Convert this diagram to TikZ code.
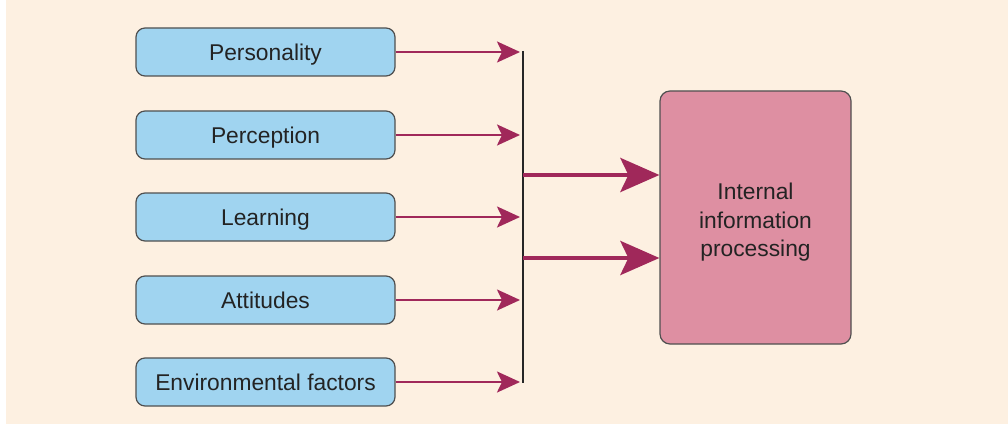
\documentclass[tikz,border=0pt]{standalone}
\usepackage{fontspec}
\setmainfont{Liberation Sans}
\usetikzlibrary{arrows.meta}
\definecolor{cream}{RGB}{253,240,225}
\definecolor{factorfill}{RGB}{160,212,240}
\definecolor{procfill}{RGB}{222,143,162}
\definecolor{flow}{RGB}{160,40,90}
\definecolor{edge}{RGB}{80,80,80}
\definecolor{ink}{RGB}{35,35,35}
\tikzset{
  factor/.style={draw=edge, line width=1.2pt, fill=factorfill, rounded corners=9pt,
    minimum width=259pt, minimum height=48pt, inner sep=0pt, text=ink,
    text height=16.3pt, text depth=0pt,
    font=\fontsize{22.8}{27}\selectfont},
  proc/.style={draw=edge, line width=1.2pt, fill=procfill, rounded corners=10pt,
    minimum width=191pt, minimum height=253pt, inner sep=0pt},
  proctext/.style={text=ink, align=center, font=\fontsize{22.8}{28.5}\selectfont},
  feed/.style={draw=flow, line width=2.4pt,
    -{Stealth[length=23pt, width=21pt, inset=5pt]}, shorten >=3pt},
  merge/.style={draw=flow, line width=4.5pt,
    -{Stealth[length=39pt, width=34pt, inset=8pt]}},
  bar/.style={draw=black!85, line width=2.2pt}
}
\begin{document}
\begin{tikzpicture}[x=1pt, y=-1pt]
  % page and panel
  \fill[white] (0,0) rectangle (1008,425);
  \fill[cream] (6,0) rectangle (1008,424);
  \useasboundingbox (0,0) rectangle (1008,425);

  % influencing factors
  \node[factor] (pers) at (265.5,52)  {Personality};
  \node[factor] (perc) at (265.5,135) {Perception};
  \node[factor] (lear) at (265.5,217) {Learning};
  \node[factor] (atti) at (265.5,300) {Attitudes};
  \node[factor] (envi) at (265.5,382) {Environmental factors};

  % processing box
  \node[proc] (proc) at (755.5,217.5) {};
  \node[proctext] (proclabel) at (755.5,222.5) {Internal\\information\\processing};

  % collecting bar
  \coordinate (bartop) at (523,51);
  \coordinate (barbot) at (523,383);
  \draw[bar] (bartop) -- (barbot);

  % factor arrows into the bar
  \foreach \n in {pers,perc,lear,atti,envi}
    \draw[feed] (\n.east) -- (\n.east -| bartop);

  % merged flow into processing
  \coordinate (m1) at (523,175);
  \coordinate (m2) at (523,258);
  \draw[merge] (m1) -- (m1 -| proc.west);
  \draw[merge] (m2) -- (m2 -| proc.west);
\end{tikzpicture}
\end{document}
